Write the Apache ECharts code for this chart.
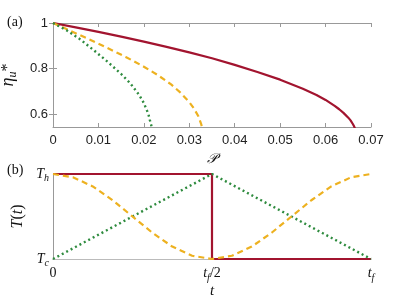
<!DOCTYPE html>
<html><head><meta charset="utf-8">
<script src="https://cdn.jsdelivr.net/npm/echarts@6/dist/echarts.min.js"></script>
<style>html,body{margin:0;padding:0;background:#fff}#c{width:411px;height:299px}</style>
</head><body><div id="c"></div>
<script>
// ---- panel (a) data: efficiency vs power ----
const redP   = [0, 0.005, 0.01, 0.015, 0.02, 0.025, 0.03, 0.035, 0.04, 0.045, 0.05, 0.055, 0.058, 0.06, 0.062, 0.063, 0.064, 0.065, 0.0655, 0.066, 0.0663, 0.0665, 0.0668];
const redEta = [1, 0.981, 0.961, 0.94, 0.918, 0.895, 0.871, 0.845, 0.816, 0.785, 0.751, 0.711, 0.684, 0.662, 0.636, 0.621, 0.604, 0.584, 0.572, 0.556, 0.545, 0.535, 0.5];
const orangeP   = [0, 0.004, 0.008, 0.012, 0.016, 0.02, 0.023, 0.026, 0.028, 0.03, 0.031, 0.032, 0.0326, 0.0329];
const orangeEta = [1, 0.964, 0.928, 0.89, 0.851, 0.808, 0.772, 0.73, 0.695, 0.652, 0.625, 0.59, 0.557, 0.535];
const greenP   = [0, 0.003, 0.006, 0.009, 0.012, 0.015, 0.017, 0.019, 0.02, 0.021, 0.0213, 0.0216, 0.0218];
const greenEta = [1, 0.968, 0.928, 0.88, 0.83, 0.776, 0.735, 0.683, 0.648, 0.6, 0.575, 0.553, 0.535];
const xTicksA = [0, 0.01, 0.02, 0.03, 0.04, 0.05, 0.06, 0.07];
const yTicksA = [0.6, 0.8, 1];

// ---- panel (b) data: temperature protocols ----
const redT_t = [0, 0.5, 0.5, 1];
const redT_v = [1, 1, 0, 0];
const greenT_t = [0, 0.5, 1];
const greenT_v = [0, 1, 0];
const orangeT_t = [0, 0.0625, 0.125, 0.1875, 0.25, 0.3125, 0.375, 0.4375, 0.5, 0.5625, 0.625, 0.6875, 0.75, 0.8125, 0.875, 0.9375, 1];
const orangeT_v = [1, 0.962, 0.854, 0.691, 0.5, 0.309, 0.146, 0.038, 0, 0.038, 0.146, 0.309, 0.5, 0.691, 0.854, 0.962, 1];
const xTicksB = [0, 0.5, 1];
const xLabelsB = ['{n|0}', '{i|t}{s|f}{n|/2}', '{i|t}{s|f}'];
const yTicksB = [0, 1];
const yLabelsB = ['{i|T}{s|c}', '{i|T}{s|h}'];

const RED = '#a2142f', ORANGE = '#edb120', GREEN = '#2e8b3e';
const AX = '#999';
const zip = (a, b) => a.map((v, i) => [v, b[i]]);
const serif = 'Liberation Serif';
const rich = {
  i: {fontFamily: serif, fontStyle: 'italic', fontSize: 14, lineHeight: 19, color: '#111'},
  n: {fontFamily: serif, fontSize: 14, lineHeight: 19, color: '#111'},
  s: {fontFamily: serif, fontStyle: 'italic', fontSize: 10, lineHeight: 10, verticalAlign: 'bottom', color: '#111'}
};
const sansLabel = {fontFamily: 'Liberation Sans', fontSize: 13, color: '#222'};

const chart = echarts.init(document.getElementById('c'), null, {renderer: 'canvas'});
const line = (x, y, col, type, w, xi, yi, z) => ({
  type: 'line', xAxisIndex: xi, yAxisIndex: yi, data: zip(x, y), showSymbol: false, symbol: 'none',
  smooth: false, clip: true, z: z,
  lineStyle: {color: col, width: w, type: type}
});

chart.setOption({
  animation: false,
  grid: [
    {left: 53, top: 23, width: 318, height: 104, outerBoundsMode: 'none', containLabel: false},
    {left: 53, top: 174, width: 318, height: 85, outerBoundsMode: 'none', containLabel: false}
  ],
  xAxis: [
    {gridIndex: 0, type: 'value', min: 0, max: 0.07, interval: 0.01, position: 'bottom',
      axisLine: {lineStyle: {color: AX}}, splitLine: {show: false},
      axisTick: {inside: true, length: 4, lineStyle: {color: AX}, customValues: xTicksA},
      axisLabel: Object.assign({margin: 7, customValues: xTicksA, formatter: v => v === 0 ? '0' : v.toFixed(2)}, sansLabel),
      name: '𝒫', nameLocation: 'middle', nameGap: 25,
      nameTextStyle: {fontFamily: serif, fontStyle: 'italic', fontSize: 14, color: '#111'}},
    {gridIndex: 0, type: 'value', min: 0, max: 0.07, interval: 0.01, position: 'top',
      axisLine: {lineStyle: {color: AX}}, splitLine: {show: false},
      axisTick: {inside: true, length: 4, lineStyle: {color: AX}}, axisLabel: {show: false}},
    {gridIndex: 1, type: 'value', min: 0, max: 1, position: 'bottom',
      axisLine: {lineStyle: {color: AX}}, splitLine: {show: false}, axisTick: {show: false},
      axisLabel: {margin: 5, customValues: xTicksB, rich: rich,
        formatter: v => xLabelsB[xTicksB.indexOf(v)]},
      name: '{i|t}', nameLocation: 'middle', nameGap: 24,
      nameTextStyle: {rich: {i: {fontFamily: serif, fontStyle: 'italic', fontSize: 15, color: '#111'}}}},
    {gridIndex: 1, type: 'value', min: 0, max: 1, position: 'top',
      axisLine: {lineStyle: {color: '#bbb'}}, splitLine: {show: false}, axisTick: {show: false}, axisLabel: {show: false}}
  ],
  yAxis: [
    {gridIndex: 0, type: 'value', min: 0.543, max: 1, position: 'left',
      axisLine: {show: true, lineStyle: {color: AX}}, splitLine: {show: false},
      axisTick: {show: true, inside: true, length: 4, lineStyle: {color: AX}, customValues: yTicksA},
      axisLabel: Object.assign({margin: 5, customValues: yTicksA, formatter: v => v === 1 ? '1' : v.toFixed(1)}, sansLabel),
      name: '{g|η}{su|u}{st|*}', nameLocation: 'middle', nameGap: 29,
      nameTextStyle: {rich: {
        g: {fontFamily: serif, fontStyle: 'italic', fontSize: 18, lineHeight: 22, color: '#111'},
        su: {fontFamily: serif, fontStyle: 'italic', fontSize: 12, lineHeight: 12, verticalAlign: 'bottom', color: '#111'},
        st: {fontFamily: serif, fontSize: 16, lineHeight: 22, color: '#111'}
      }}},
    {gridIndex: 0, type: 'value', min: 0.543, max: 1, position: 'right',
      axisLine: {show: true, lineStyle: {color: AX}}, splitLine: {show: false},
      axisTick: {show: true, inside: true, length: 4, lineStyle: {color: AX}, customValues: yTicksA},
      axisLabel: {show: false}},
    {gridIndex: 1, type: 'value', min: 0, max: 1, position: 'left',
      axisLine: {show: true, lineStyle: {color: AX}}, splitLine: {show: false}, axisTick: {show: false},
      axisLabel: {margin: 4, customValues: yTicksB, rich: rich, formatter: v => yLabelsB[yTicksB.indexOf(v)]},
      name: '{i|T}{n|(}{i|t}{n|)}', nameLocation: 'middle', nameGap: 24,
      nameTextStyle: {rich: {
        i: {fontFamily: serif, fontStyle: 'italic', fontSize: 16, color: '#111'},
        n: {fontFamily: serif, fontSize: 16, color: '#111'}
      }}},
    {gridIndex: 1, type: 'value', min: 0, max: 1, position: 'right',
      axisLine: {show: true, lineStyle: {color: AX}}, splitLine: {show: false}, axisTick: {show: false}, axisLabel: {show: false}}
  ],
  graphic: [
    {type: 'text', left: 7, top: 15, style: {text: '(a)', font: '14px "Liberation Serif"', fill: '#111'}},
    {type: 'text', left: 7, top: 163, style: {text: '(b)', font: '14px "Liberation Serif"', fill: '#111'}}
  ],
  series: [
    line(redP, redEta, RED, 'solid', 2.2, 0, 0, 2),
    line(orangeP, orangeEta, ORANGE, [6, 4], 2.2, 0, 0, 3),
    line(greenP, greenEta, GREEN, [2, 3], 2.4, 0, 0, 4),
    line(redT_t, redT_v, RED, 'solid', 2.2, 2, 2, 2),
    line(greenT_t, greenT_v, GREEN, [2, 3], 2.4, 2, 2, 3),
    line(orangeT_t, orangeT_v, ORANGE, [6, 4], 2.2, 2, 2, 4)
  ]
});
</script></body></html>
